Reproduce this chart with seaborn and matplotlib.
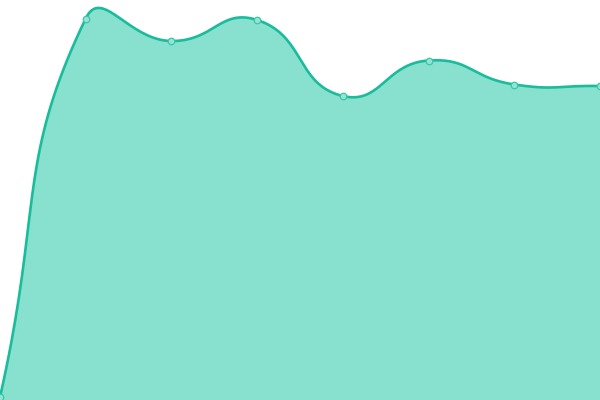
import numpy as np
import pandas as pd
import matplotlib
matplotlib.use("Agg")
import matplotlib.pyplot as plt
import seaborn as sns

# Data (y axis 0..400)
steps = [0, 1, 2, 3, 4, 5, 6, 7]
values = [3, 381.5, 359, 380, 304, 339.5, 315.5, 314]

LINE = "#1abc9c"
FILL = "#88e0cf"

sns.set_theme(style="white")

W, H = 600, 400
x_max = steps[-1]
y_max = 400


def smooth_curve(xs, ys, smooth=0.5, n=40):
    # bezier smoothing like echarts' smooth line, done in pixel space
    px = np.array(xs, float) * W / x_max
    py = np.array(ys, float) * H / y_max
    pts = np.column_stack([px, py])
    cin = pts.copy()
    cout = pts.copy()
    last = len(pts) - 1
    for i in range(len(pts)):
        prev = pts[max(i - 1, 0)]
        nxt = pts[min(i + 1, last)]
        v = (nxt - prev) * smooth
        d0 = np.hypot(*(pts[i] - prev))
        d1 = np.hypot(*(nxt - pts[i]))
        s = d0 + d1
        cin[i] = pts[i] - v * d0 / s
        cout[i] = pts[i] + v * d1 / s
    t = np.linspace(0, 1, n)[:, None]
    out = []
    for i in range(last):
        p0, p1, p2, p3 = pts[i], cout[i], cin[i + 1], pts[i + 1]
        seg = ((1 - t) ** 3) * p0 + 3 * ((1 - t) ** 2) * t * p1 + 3 * (1 - t) * t ** 2 * p2 + t ** 3 * p3
        out.append(seg if i == 0 else seg[1:])
    out = np.vstack(out)
    return out[:, 0] * x_max / W, out[:, 1] * y_max / H


cx, cy = smooth_curve(steps, values)

fig = plt.figure(figsize=(6, 4), dpi=100)
ax = fig.add_axes([0, 0, 1, 1])
ax.fill_between(cx, 0, cy, color=FILL, linewidth=0, zorder=1)
ax.plot(cx, cy, color=LINE, linewidth=1.9, zorder=2, solid_capstyle="round")

df = pd.DataFrame({"step": steps, "value": values})
sns.scatterplot(data=df, x="step", y="value", ax=ax, s=22, color="#93e4d4",
                edgecolor="#3cc6a9", linewidth=0.9, zorder=3, clip_on=False)

ax.set_xlim(0, x_max)
ax.set_ylim(0, y_max)
ax.axis("off")

fig.savefig("out.png", dpi=100)
